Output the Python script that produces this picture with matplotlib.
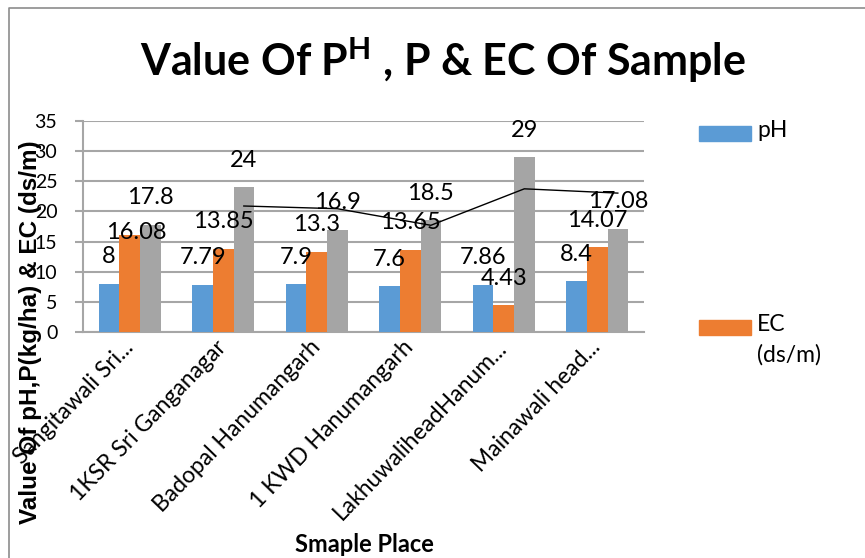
import matplotlib
matplotlib.use("Agg")
import matplotlib.pyplot as plt
import numpy as np
import pandas as pd
from matplotlib.patches import Rectangle
from matplotlib.lines import Line2D

categories = ["Sangitawali Sri...", "1KSR Sri Ganganagar", "Badopal Hanumangarh",
              "1 KWD Hanumangarh", "LakhuwaliheadHanum...", "Mainawali head..."]
ph_values = [8, 7.79, 7.9, 7.6, 7.86, 8.4]
ec_values = [16.08, 13.85, 13.3, 13.65, 4.43, 14.07]
p_values = [17.8, 24, 16.9, 18.5, 29, 17.08]
ph_labels = ["8", "7.79", "7.9", "7.6", "7.86", "8.4"]
ec_labels = ["16.08", "13.85", "13.3", "13.65", "4.43", "14.07"]
p_labels = ["17.8", "24", "16.9", "18.5", "29", "17.08"]
series_names = ["pH", "EC\n(ds/m)"]
yticks = [0, 5, 10, 15, 20, 25, 30, 35]

plt.rcParams['font.family'] = ['Lato', 'DejaVu Sans']
plt.rcParams['mathtext.fontset'] = 'custom'
plt.rcParams['mathtext.rm'] = 'Lato:bold'

W, H = 865, 558
fig = plt.figure(figsize=(W / 100, H / 100), dpi=100)
ax = fig.add_axes([83 / W, 1 - 332 / H, (644 - 83) / W, (332 - 121) / H])

c_blue, c_orange, c_gray = "#5B9BD5", "#ED7D31", "#A5A5A5"
grid_c = "#A6A6A6"
x = np.arange(len(categories))
bw = 0.22
ax.bar(x - bw, ph_values, bw, color=c_blue, zorder=3)
ax.bar(x, ec_values, bw, color=c_orange, zorder=3)
ax.bar(x + bw, p_values, bw, color=c_gray, zorder=3)

# 2-period moving average trendline of P series
ma = pd.Series(p_values).rolling(2).mean()
ax.plot(x[1:] + bw, ma.values[1:], color="black", lw=1.0, zorder=4)

off = 4.5
lab_fs = 17
for i in range(len(categories)):
    ax.text(x[i] - bw, ph_values[i] + off, ph_labels[i], ha="center", va="center", fontsize=lab_fs, zorder=5)
    dx, dy = (0.07, 0.4) if i == 0 else (0, off)
    ax.text(x[i] + dx, ec_values[i] + dy, ec_labels[i], ha="center", va="center", fontsize=lab_fs, zorder=5)
    ax.text(x[i] + bw, p_values[i] + off, p_labels[i], ha="center", va="center", fontsize=lab_fs, zorder=5)

ax.set_xlim(-0.5, len(categories) - 0.5)
ax.set_ylim(0, 35)
ax.set_yticks(yticks)
ax.set_yticklabels([str(t) for t in yticks], fontsize=14)
ax.yaxis.grid(True, color=grid_c, lw=1.5, zorder=0)
ax.set_axisbelow(True)
for s in ["top", "right"]:
    ax.spines[s].set_visible(False)
ax.spines["left"].set_color(grid_c)
ax.spines["bottom"].set_color(grid_c)
ax.spines["left"].set_linewidth(1.5)
ax.spines["bottom"].set_linewidth(1.5)
ax.tick_params(axis="y", length=5.5, width=1.5, color=grid_c, pad=13)
ax.tick_params(axis="x", length=0, pad=4)
ax.set_xticks(x)
ax.set_xticklabels(categories, rotation=46, ha="right", va="center",
                   rotation_mode="anchor", fontsize=16.5)
for t in ax.get_xticklabels():
    t.set_y(-0.03)

fig.text(443 / W, 1 - 60 / H, r"Value Of P$^{\mathrm{H}}$ , P & EC Of Sample",
         ha="center", va="center", fontsize=31, fontweight="bold")
fig.text(31 / W, 1 - 332 / H, "Value Of pH,P(kg/ha) & EC (ds/m)", rotation=90,
         ha="center", va="center", fontsize=17.5, fontweight="bold",
         family=["Liberation Sans", "DejaVu Sans"])
fig.text(364 / W, 1 - 544 / H, "Smaple Place", ha="center", va="center",
         fontsize=17, fontweight="bold")

# legend
leg_colors = [c_blue, c_orange]
leg_y = [133, 327]
for col, yy, name in zip(leg_colors, leg_y, series_names):
    fig.patches.append(Rectangle((699 / W, 1 - (yy + 7.5) / H), 52 / W, 15 / H,
                                 transform=fig.transFigure, color=col, figure=fig))
    fig.text(757 / W, 1 - (yy - 13) / H, name, ha="left", va="top", fontsize=16.5,
             linespacing=1.5)

# chart border
fig.lines.append(Line2D([8.5 / W, 8.5 / W, 1], [0, 1 - 8 / H, 1 - 8 / H],
                        transform=fig.transFigure, color="#8C8C8C", lw=1.2))

fig.savefig("out.png", dpi=100)
